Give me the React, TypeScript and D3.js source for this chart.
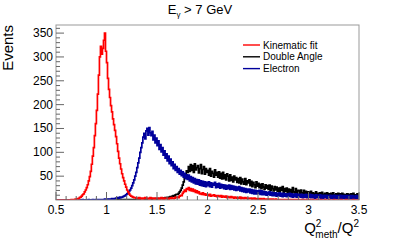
import React, { useRef, useEffect } from "react";
import * as d3 from "d3";

// bins of width 0.01 from 0.5 to 3.5 (left edges)
const binStart = 0.5;
const binWidth = 0.01;

const kinematicFit = [
  0, 0, 0, 0, 0, 0, 0, 0, 0, 0, 0, 0, 0, 0, 0, 1, 0, 1, 1, 2,
  2, 3, 3, 5, 6, 8, 11, 13, 17, 21,
  26, 32, 40, 49, 60, 75, 92, 110, 135, 160,
  188, 222, 262, 300, 322, 306, 318, 335, 350, 312,
  288, 255, 232, 215, 198, 185, 170, 158, 146, 133,
  118, 102, 88, 76, 65, 55, 47, 40, 33, 27,
  21, 17, 13, 10, 8, 7, 6, 5, 5, 4,
  4, 3, 5, 3, 4, 2, 4, 3, 5, 3,
  4, 3, 2, 5, 3, 4, 3, 2, 4, 3,
  3, 4, 2, 3, 5, 3, 2, 4, 3, 4,
  3, 2, 4, 3, 5, 4, 3, 4, 6, 5,
  6, 5, 8, 10, 9, 14, 17, 21, 18, 24,
  22, 26, 20, 24, 19, 23, 18, 21, 16, 19,
  15, 17, 13, 14, 12, 15, 11, 13, 10, 12,
  11, 9, 12, 8, 10, 9, 11, 8, 9, 7,
  9, 8, 7, 9, 6, 8, 7, 6, 8, 5,
  7, 6, 5, 7, 5, 6, 4, 6, 5, 4,
  5, 4, 6, 3, 5, 4, 3, 5, 4, 3,
  4, 3, 3, 4, 2, 3, 4, 2, 3, 2,
  3, 2, 3, 2, 2, 3, 1, 2, 2, 1,
  2, 1, 2, 1, 2, 1, 1, 2, 1, 1,
  1, 1, 0, 1, 1, 0, 1, 1, 0, 1,
  0, 1, 1, 0, 1, 0, 1, 0, 1, 0,
  1, 0, 0, 1, 0, 1, 0, 0, 1, 0,
  0, 1, 0, 0, 1, 0, 0, 0, 1, 0,
  0, 0, 1, 0, 0, 0, 1, 0, 0, 0,
  1, 0, 0, 0, 0, 1, 0, 0, 0, 0,
  0, 0, 1, 0, 0, 0, 0, 1, 0, 0,
  0, 0, 0, 0, 1, 0, 0, 0, 0, 0,
];

const doubleAngle = [
  0, 0, 0, 0, 0, 0, 0, 0, 0, 0, 0, 0, 0, 0, 0, 0, 0, 0, 0, 0,
  0, 0, 0, 0, 0, 0, 0, 0, 0, 0, 0, 0, 0, 0, 0, 0, 0, 0, 0, 0,
  0, 0, 0, 0, 0, 0, 0, 0, 0, 0,
  0, 0, 1, 0, 0, 0, 1, 0, 0, 0,
  0, 1, 0, 0, 1, 0, 0, 1, 0, 1,
  0, 1, 1, 0, 1, 0, 1, 1, 0, 1,
  1, 1, 2, 1, 1, 2, 1, 2, 1, 2,
  2, 1, 2, 2, 3, 2, 2, 3, 2, 3,
  2, 3, 2, 3, 4, 3, 4, 3, 5, 4,
  5, 4, 6, 7, 6, 8, 9, 8, 11, 12,
  12, 14, 17, 20, 25, 31, 38, 46, 55, 61,
  58, 70, 60, 74, 62, 72, 58, 76, 63, 68,
  72, 57, 66, 74, 55, 64, 70, 54, 66, 58,
  62, 52, 66, 50, 60, 56, 48, 63, 52, 58,
  48, 59, 46, 56, 44, 58, 45, 53, 42, 55,
  50, 40, 53, 41, 48, 38, 50, 42, 47, 37,
  45, 36, 47, 34, 44, 38, 33, 45, 32, 40,
  36, 42, 30, 39, 28, 37, 32, 26, 38, 29,
  35, 26, 33, 24, 34, 27, 22, 32, 25, 30,
  22, 31, 20, 29, 24, 19, 28, 21, 27, 18,
  25, 17, 26, 20, 28, 16, 24, 18, 25, 15,
  23, 16, 22, 14, 26, 17, 15, 24, 13, 20,
  19, 13, 21, 15, 12, 20, 14, 18, 11, 17,
  16, 12, 18, 11, 15, 13, 10, 17, 12, 14,
  10, 15, 11, 16, 12, 9, 14, 10, 15, 11,
  13, 9, 14, 10, 15, 11, 8, 13, 10, 14,
  9, 13, 10, 14, 8, 12, 11, 9, 13, 10,
  12, 8, 13, 10, 14, 9, 11, 8, 13, 10,
];

const electron = [
  0, 0, 0, 0, 0, 0, 0, 0, 0, 0, 0, 0, 0, 0, 0, 0, 0, 0, 0, 0,
  0, 0, 0, 0, 0, 0, 1, 0, 0, 0,
  0, 0, 1, 0, 0, 0, 1, 0, 0, 1,
  0, 1, 0, 1, 1, 0, 1, 1, 2, 1,
  1, 2, 1, 2, 2, 3, 2, 3, 3, 4,
  4, 5, 4, 6, 5, 6, 7, 8, 9, 11,
  13, 15, 18, 21, 25, 30, 36, 42, 50, 58,
  68, 78, 88, 100, 110, 120, 132, 140, 128, 145,
  150, 136, 152, 141, 135, 144, 126, 136, 120, 130,
  114, 124, 106, 116, 101, 110, 94, 103, 88, 97,
  82, 92, 76, 86, 72, 80, 66, 75, 62, 70,
  58, 66, 54, 62, 51, 59, 48, 56, 45, 53,
  43, 52, 40, 49, 38, 47, 36, 45, 34, 43,
  33, 42, 31, 40, 30, 39, 29, 38, 28, 37,
  30, 38, 28, 36, 27, 35, 31, 37, 26, 34,
  27, 35, 25, 33, 26, 32, 24, 31, 23, 30,
  24, 31, 22, 30, 23, 29, 21, 28, 20, 27,
  21, 28, 19, 26, 18, 25, 17, 24, 16, 23,
  17, 23, 15, 22, 14, 21, 13, 20, 13, 19,
  14, 20, 12, 19, 11, 18, 11, 17, 10, 16,
  11, 17, 10, 16, 9, 15, 9, 15, 8, 14,
  9, 15, 8, 14, 7, 14, 8, 13, 7, 13,
  8, 14, 7, 13, 6, 12, 7, 13, 6, 12,
  7, 12, 6, 12, 5, 11, 6, 12, 5, 11,
  6, 12, 5, 11, 5, 10, 4, 11, 5, 10,
  5, 11, 4, 10, 4, 10, 5, 10, 4, 9,
  5, 10, 4, 9, 3, 10, 4, 9, 3, 9,
  4, 10, 3, 9, 4, 9, 3, 9, 4, 9,
  4, 9, 3, 9, 3, 8, 3, 9, 3, 8,
];

// drawing order: black, blue, red on top
const series = [
  { name: "Double Angle", values: doubleAngle, color: "#000000" },
  { name: "Electron", values: electron, color: "#00009c" },
  { name: "Kinematic fit", values: kinematicFit, color: "#ff0000" },
];
const legendOrder = ["Kinematic fit", "Double Angle", "Electron"];

const xMajor = [0.5, 1, 1.5, 2, 2.5, 3, 3.5];
const yMajor = [50, 100, 150, 200, 250, 300, 350];

export default function App() {
  const svgRef = useRef<SVGSVGElement>(null);
  const width = 399;
  const height = 250;
  const m = { left: 56, right: 359, top: 25, bottom: 200 };

  useEffect(() => {
    const svg = d3.select(svgRef.current);
    svg.selectAll("*").remove();
    const font = "'Liberation Sans', Arial, Helvetica, sans-serif";

    const x = d3.scaleLinear().domain([0.5, 3.5]).range([m.left, m.right]);
    const y = d3.scaleLinear().domain([0, 367]).range([m.bottom, m.top]);

    svg
      .append("defs")
      .append("clipPath")
      .attr("id", "frameClip")
      .append("rect")
      .attr("x", m.left)
      .attr("y", m.top)
      .attr("width", m.right - m.left)
      .attr("height", m.bottom - m.top);

    // histograms
    const line = d3
      .line<[number, number]>()
      .x((d) => x(d[0]))
      .y((d) => y(d[1]))
      .curve(d3.curveStepAfter);

    const g = svg.append("g").attr("clip-path", "url(#frameClip)");
    series.forEach((s) => {
      const pts: [number, number][] = s.values.map((v, i) => [binStart + i * binWidth, v]);
      pts.push([binStart + s.values.length * binWidth, s.values[s.values.length - 1]]);
      g.append("path")
        .attr("d", line(pts))
        .attr("fill", "none")
        .attr("stroke", s.color)
        .attr("stroke-width", 1.7);
    });

    // frame
    svg
      .append("rect")
      .attr("x", m.left)
      .attr("y", m.top)
      .attr("width", m.right - m.left)
      .attr("height", m.bottom - m.top)
      .attr("fill", "none")
      .attr("stroke", "#999")
      .attr("stroke-width", 1);

    // ticks
    const tickColor = "#666";
    d3.range(0.5, 3.5001, 0.1).forEach((v) => {
      const major = xMajor.some((t) => Math.abs(t - v) < 1e-6);
      svg.append("line")
        .attr("x1", x(v)).attr("x2", x(v))
        .attr("y1", m.bottom).attr("y2", m.bottom - (major ? 8 : 4))
        .attr("stroke", tickColor).attr("stroke-width", 1);
    });
    d3.range(10, 367, 10).forEach((v) => {
      const major = v % 50 === 0;
      svg.append("line")
        .attr("x1", m.left).attr("x2", m.left + (major ? 8 : 4))
        .attr("y1", y(v)).attr("y2", y(v))
        .attr("stroke", tickColor).attr("stroke-width", 1);
    });

    // tick labels
    svg.selectAll("text.xl")
      .data(xMajor)
      .enter()
      .append("text")
      .attr("class", "xl")
      .attr("x", (d) => x(d))
      .attr("y", 214)
      .attr("text-anchor", "middle")
      .attr("font-family", font)
      .attr("font-size", 12)
      .text((d) => String(d));

    svg.selectAll("text.yl")
      .data(yMajor)
      .enter()
      .append("text")
      .attr("class", "yl")
      .attr("x", 53)
      .attr("y", (d) => y(d) + 4)
      .attr("text-anchor", "end")
      .attr("font-family", font)
      .attr("font-size", 12)
      .text((d) => String(d));

    // title
    const title = svg.append("text")
      .attr("x", 200)
      .attr("y", 14)
      .attr("text-anchor", "middle")
      .attr("font-family", font)
      .attr("font-size", 13);
    title.append("tspan").text("E");
    title.append("tspan").attr("font-size", 8).attr("dy", 3).text("\u03b3");
    title.append("tspan").attr("dy", -3).text(" > 7 GeV");

    // y title
    svg.append("text")
      .attr("transform", `translate(13, ${m.top}) rotate(-90)`)
      .attr("text-anchor", "end")
      .attr("font-family", font)
      .attr("font-size", 15)
      .text("Events");

    // x title
    const xt = svg.append("text")
      .attr("x", m.right)
      .attr("y", 233)
      .attr("text-anchor", "end")
      .attr("font-family", font)
      .attr("font-size", 15);
    xt.append("tspan").text("Q");
    xt.append("tspan").attr("font-size", 10).attr("dy", -6).text("2");
    xt.append("tspan").attr("font-size", 10).attr("dx", -6).attr("dy", 11).text("meth");
    xt.append("tspan").attr("dy", -5).text("/Q");
    xt.append("tspan").attr("font-size", 10).attr("dy", -6).text("2");

    // legend
    legendOrder.forEach((name, i) => {
      const s = series.find((d) => d.name === name)!;
      const ly = 45 + i * 11.8;
      svg.append("line")
        .attr("x1", 243).attr("x2", 260)
        .attr("y1", ly).attr("y2", ly)
        .attr("stroke", s.color).attr("stroke-width", 1.4);
      svg.append("text")
        .attr("x", 263)
        .attr("y", ly + 3.5)
        .attr("font-family", font)
        .attr("font-size", 10)
        .text(name);
    });
  }, []);

  return (
    <svg
      ref={svgRef}
      width={width}
      height={height}
      style={{ position: "absolute", left: 0, top: 0, background: "#fff" }}
    />
  );
}
